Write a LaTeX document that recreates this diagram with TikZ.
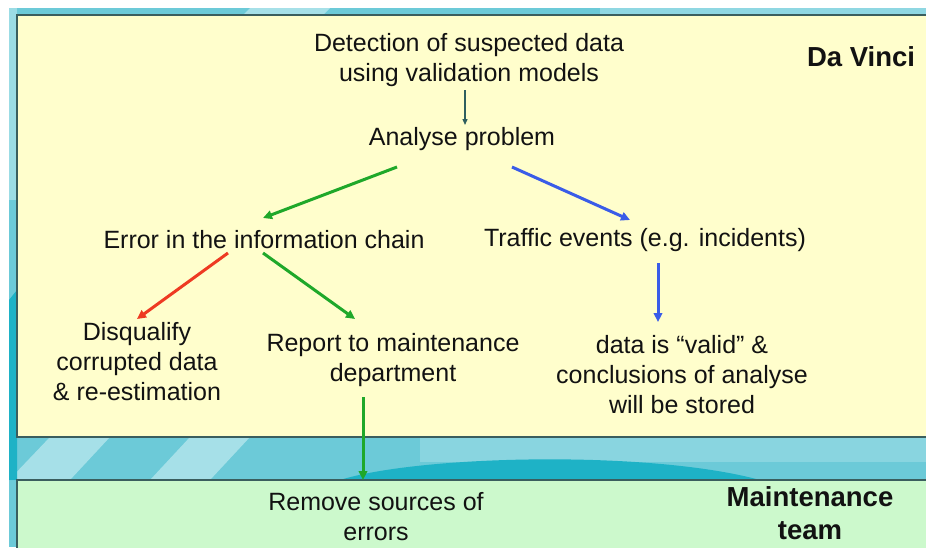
\documentclass[tikz,border=0pt]{standalone}
\usepackage{fontspec}
\setmainfont{Liberation Sans}
\usetikzlibrary{arrows.meta,calc}
\definecolor{bgteal}{HTML}{6CCAD8}
\definecolor{bglight}{HTML}{A6E0E8}
\definecolor{bgdark}{HTML}{1EB2C6}
\definecolor{boxyellow}{HTML}{FFFECC}
\definecolor{boxgreen}{HTML}{CCF9CC}
\definecolor{boxline}{HTML}{3A5E5E}
\definecolor{agreen}{HTML}{1FA82A}
\definecolor{ared}{HTML}{EE3A22}
\definecolor{ablue}{HTML}{3A5CE8}
\definecolor{ateal}{HTML}{2F5F5F}
\tikzset{
  txt/.style={inner sep=0pt, align=center, text=black!93, font=\fontsize{25}{30}\selectfont},
  boldtxt/.style={inner sep=0pt, align=center, text=black!93, font=\fontsize{27.5}{33}\selectfont\bfseries},
  panel/.style={draw=boxline, line width=1.4pt},
  garrow/.style={draw=agreen, line width=3pt, -{Triangle[length=9pt,width=8.5pt]}},
  rarrow/.style={draw=ared, line width=3pt, -{Triangle[length=9pt,width=8.5pt]}},
  barrow/.style={draw=ablue, line width=3pt, -{Triangle[length=9pt,width=8.5pt]}},
  tarrow/.style={draw=ateal, line width=1.3pt, -{Triangle[length=6pt,width=5pt]}},
}
\begin{document}
\begin{tikzpicture}[x=1pt,y=-1pt]
\useasboundingbox (0,0) rectangle (926,547);
\clip (0,0) rectangle (926,547);
% background
\fill[white] (0,0) rectangle (926,547);
\fill[bgteal] (9,8) rectangle (926,547);
\fill[bglight!80!bgteal] (9,8) rectangle (17,200);
\fill[bglight] (250,8) -- (330,8) -- (280,60) -- (200,60) -- cycle;
\fill[bglight!60!bgteal] (600,8) -- (926,8) -- (926,15) -- (600,15) -- cycle;
\fill[bglight] (9,480) -- (50,437) -- (110,437) -- (70,480) -- cycle;
\fill[bglight] (150,480) -- (190,437) -- (250,437) -- (210,480) -- cycle;
\fill[bglight!50!bgteal] (420,437) -- (926,437) -- (926,462) -- (420,462) -- cycle;
\fill[bgdark] (340,480) .. controls (420,455) and (650,450) .. (760,480) -- cycle;
\fill[bgdark] (9,300) -- (17,290) -- (17,480) -- (9,480) -- cycle;
% panels
\draw[panel, fill=boxyellow] (17,15) rectangle (940,437);
\draw[panel, fill=boxgreen] (17,480) rectangle (940,560);
% texts
\node[txt] (detect) at (469,60) {Detection of suspected data\\using validation models};
\node[txt] (analyse) at (462,139) {Analyse problem};
\node[txt] (error) at (264,240) {Error in the information chain};
\node[txt] (traffic) at (645,240) {Traffic events (e.g. incidents)};
\node[txt] (disq) at (137,362) {Disqualify\\corrupted data\\\& re-estimation};
\node[txt] (report) at (393,360) {Report to maintenance\\department};
\node[txt] (valid) at (682,375) {data is “valid” \&\\conclusions of analyse\\will be stored};
\node[txt] (remove) at (376,517) {Remove sources of\\errors};
\node[boldtxt] (davinci) at (861,57) {Da Vinci};
\node[boldtxt] (maint) at (810,513) {Maintenance\\team};
% connectors
\draw[tarrow] ([shift={(-4,30)}]detect.center) -- ([shift={(3,-14)}]analyse.center);
\draw[garrow] ([shift={(-65,28)}]analyse.center) -- ([shift={(-1,-22)}]error.center);
\draw[barrow] ([shift={(50,28)}]analyse.center) -- ([shift={(-15,-20)}]traffic.center);
\draw[rarrow] ([shift={(-36,13)}]error.center) -- ([shift={(0,-43)}]disq.center);
\draw[garrow] ([shift={(-1,13)}]error.center) -- ([shift={(-38,-41)}]report.center);
\draw[barrow] ([shift={(13,23)}]traffic.center) -- ([shift={(-24,-53)}]valid.center);
\draw[garrow] ([shift={(-30,37)}]report.center) -- ([shift={(-13,-37)}]remove.center);
\end{tikzpicture}
\end{document}
